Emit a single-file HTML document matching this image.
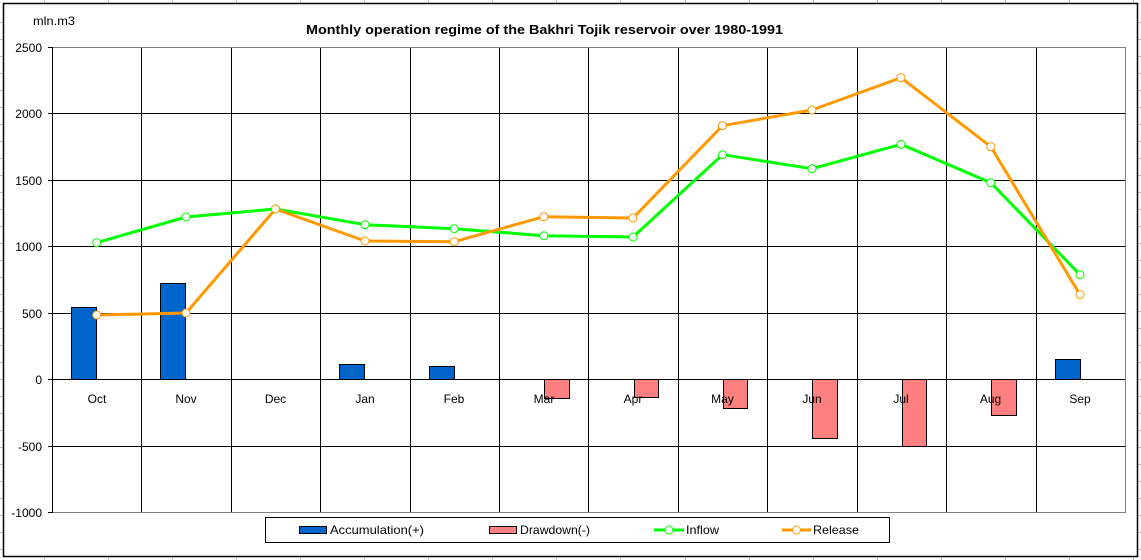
<!DOCTYPE html>
<html>
<head>
<meta charset="utf-8">
<style>
html,body{margin:0;padding:0;background:#fff;}
svg{display:block;}
text{font-family:"Liberation Sans",Arial,sans-serif;fill:#000;}
</style>
</head>
<body>
<svg width="1141" height="560" viewBox="0 0 1141 560" xmlns="http://www.w3.org/2000/svg">
<!-- spreadsheet background gridlines -->
<g stroke="#c0c0c0" stroke-width="1" shape-rendering="crispEdges">
<line x1="44.5" y1="0" x2="44.5" y2="560"/><line x1="108.5" y1="0" x2="108.5" y2="560"/><line x1="172.5" y1="0" x2="172.5" y2="560"/><line x1="236.5" y1="0" x2="236.5" y2="560"/><line x1="300.5" y1="0" x2="300.5" y2="560"/><line x1="364.5" y1="0" x2="364.5" y2="560"/><line x1="428.5" y1="0" x2="428.5" y2="560"/><line x1="492.5" y1="0" x2="492.5" y2="560"/><line x1="556.5" y1="0" x2="556.5" y2="560"/><line x1="620.5" y1="0" x2="620.5" y2="560"/><line x1="685.5" y1="0" x2="685.5" y2="560"/><line x1="749.5" y1="0" x2="749.5" y2="560"/><line x1="813.5" y1="0" x2="813.5" y2="560"/><line x1="877.5" y1="0" x2="877.5" y2="560"/><line x1="941.5" y1="0" x2="941.5" y2="560"/><line x1="1005.5" y1="0" x2="1005.5" y2="560"/><line x1="1069.5" y1="0" x2="1069.5" y2="560"/><line x1="1133.5" y1="0" x2="1133.5" y2="560"/>
<line x1="0" y1="22.5" x2="1141" y2="22.5"/><line x1="0" y1="39.5" x2="1141" y2="39.5"/><line x1="0" y1="56.5" x2="1141" y2="56.5"/><line x1="0" y1="73.5" x2="1141" y2="73.5"/><line x1="0" y1="90.5" x2="1141" y2="90.5"/><line x1="0" y1="107.5" x2="1141" y2="107.5"/><line x1="0" y1="124.5" x2="1141" y2="124.5"/><line x1="0" y1="141.5" x2="1141" y2="141.5"/><line x1="0" y1="158.5" x2="1141" y2="158.5"/><line x1="0" y1="175.5" x2="1141" y2="175.5"/><line x1="0" y1="192.5" x2="1141" y2="192.5"/><line x1="0" y1="209.5" x2="1141" y2="209.5"/><line x1="0" y1="226.5" x2="1141" y2="226.5"/><line x1="0" y1="243.5" x2="1141" y2="243.5"/><line x1="0" y1="260.5" x2="1141" y2="260.5"/><line x1="0" y1="277.5" x2="1141" y2="277.5"/><line x1="0" y1="294.5" x2="1141" y2="294.5"/><line x1="0" y1="311.5" x2="1141" y2="311.5"/><line x1="0" y1="328.5" x2="1141" y2="328.5"/><line x1="0" y1="345.5" x2="1141" y2="345.5"/><line x1="0" y1="362.5" x2="1141" y2="362.5"/><line x1="0" y1="379.5" x2="1141" y2="379.5"/><line x1="0" y1="396.5" x2="1141" y2="396.5"/><line x1="0" y1="413.5" x2="1141" y2="413.5"/><line x1="0" y1="430.5" x2="1141" y2="430.5"/><line x1="0" y1="447.5" x2="1141" y2="447.5"/><line x1="0" y1="464.5" x2="1141" y2="464.5"/><line x1="0" y1="481.5" x2="1141" y2="481.5"/><line x1="0" y1="498.5" x2="1141" y2="498.5"/><line x1="0" y1="515.5" x2="1141" y2="515.5"/><line x1="0" y1="532.5" x2="1141" y2="532.5"/><line x1="0" y1="549.5" x2="1141" y2="549.5"/>
</g>
<!-- chart area -->
<rect x="3.5" y="3.5" width="1134" height="553" fill="#fff" stroke="#000" stroke-width="1.5"/>

<!-- title -->
<text x="306" y="34" font-size="12.5" font-weight="bold" textLength="477" lengthAdjust="spacingAndGlyphs">Monthly operation regime of the Bakhri Tojik reservoir over 1980-1991</text>
<text x="33" y="25" font-size="12" textLength="42" lengthAdjust="spacingAndGlyphs">mln.m3</text>

<!-- gridlines -->
<g stroke="#000" stroke-width="1" shape-rendering="crispEdges">
<line x1="52" y1="113.5" x2="1125" y2="113.5"/>
<line x1="52" y1="180.5" x2="1125" y2="180.5"/>
<line x1="52" y1="246.5" x2="1125" y2="246.5"/>
<line x1="52" y1="313.5" x2="1125" y2="313.5"/>
<line x1="52" y1="379.5" x2="1125" y2="379.5"/>
<line x1="52" y1="446.5" x2="1125" y2="446.5"/>
<line x1="141.5" y1="47" x2="141.5" y2="512"/>
<line x1="231.5" y1="47" x2="231.5" y2="512"/>
<line x1="320.5" y1="47" x2="320.5" y2="512"/>
<line x1="410.5" y1="47" x2="410.5" y2="512"/>
<line x1="499.5" y1="47" x2="499.5" y2="512"/>
<line x1="588.5" y1="47" x2="588.5" y2="512"/>
<line x1="678.5" y1="47" x2="678.5" y2="512"/>
<line x1="767.5" y1="47" x2="767.5" y2="512"/>
<line x1="857.5" y1="47" x2="857.5" y2="512"/>
<line x1="946.5" y1="47" x2="946.5" y2="512"/>
<line x1="1036.5" y1="47" x2="1036.5" y2="512"/>
</g>
<g stroke="#808080" stroke-width="1" shape-rendering="crispEdges" fill="none">
<polyline points="52,47.5 1125.5,47.5 1125.5,512.5 52,512.5"/>
</g>
<g stroke="#000" stroke-width="1" shape-rendering="crispEdges">
<line x1="52.5" y1="47" x2="52.5" y2="513"/>
<line x1="48" y1="47.5" x2="52" y2="47.5"/>
<line x1="48" y1="113.5" x2="52" y2="113.5"/>
<line x1="48" y1="180.5" x2="52" y2="180.5"/>
<line x1="48" y1="246.5" x2="52" y2="246.5"/>
<line x1="48" y1="313.5" x2="52" y2="313.5"/>
<line x1="48" y1="379.5" x2="52" y2="379.5"/>
<line x1="48" y1="446.5" x2="52" y2="446.5"/>
<line x1="48" y1="512.5" x2="52" y2="512.5"/>
</g>
<!-- y labels -->
<g font-size="12" text-anchor="end">
<text x="42" y="52">2500</text>
<text x="42" y="118">2000</text>
<text x="42" y="185">1500</text>
<text x="42" y="251">1000</text>
<text x="42" y="318">500</text>
<text x="42" y="384">0</text>
<text x="42" y="451">-500</text>
<text x="42" y="517">-1000</text>
</g>

<!-- bars -->
<g fill="#0066cc" stroke="#000" stroke-width="1" shape-rendering="crispEdges">
<rect x="71.5" y="307.5" width="25" height="72"/>
<rect x="160.5" y="283.5" width="25" height="96"/>
<rect x="339.5" y="364.5" width="25" height="15"/>
<rect x="429.5" y="366.5" width="25" height="13"/>
<rect x="1055.5" y="359.5" width="25" height="20"/>
</g>
<g fill="#ff8080" stroke="#000" stroke-width="1" shape-rendering="crispEdges">
<rect x="544.5" y="379.5" width="25" height="19"/>
<rect x="634.5" y="379.5" width="24" height="18"/>
<rect x="723.5" y="379.5" width="24" height="29"/>
<rect x="812.5" y="379.5" width="25" height="59"/>
<rect x="902.5" y="379.5" width="24" height="67"/>
<rect x="991.5" y="379.5" width="25" height="36"/>
</g>

<!-- category labels -->
<g font-size="12" text-anchor="middle">
<text x="97" y="403">Oct</text>
<text x="186" y="403">Nov</text>
<text x="275.5" y="403">Dec</text>
<text x="365" y="403">Jan</text>
<text x="454" y="403">Feb</text>
<text x="544" y="403">Mar</text>
<text x="633" y="403">Apr</text>
<text x="722.5" y="403">May</text>
<text x="812" y="403">Jun</text>
<text x="901" y="403">Jul</text>
<text x="990.5" y="403">Aug</text>
<text x="1080" y="403">Sep</text>
</g>

<!-- inflow -->
<polyline fill="none" stroke="#00ff00" stroke-width="3" stroke-linejoin="round" points="96.7,242.7 186,217 275.5,209 365,224.7 454.2,228.7 543.8,235.7 633,237 722.5,154.7 812,168.7 901,144.3 990.8,182.7 1080,274.7"/>
<!-- release -->
<polyline fill="none" stroke="#ff9900" stroke-width="3" stroke-linejoin="round" points="96.7,315 186,313 275.5,209 365,241 454.2,241.7 543.8,216.7 633,218 722.5,125.7 812,110 901,77.7 990.8,146.7 1080,294.7"/>
<g fill="#fff" stroke="#00ff00" stroke-width="1">
<circle cx="96.7" cy="242.7" r="4"/><circle cx="186" cy="217" r="4"/><circle cx="275.5" cy="209" r="4"/><circle cx="365" cy="224.7" r="4"/><circle cx="454.2" cy="228.7" r="4"/><circle cx="543.8" cy="235.7" r="4"/><circle cx="633" cy="237" r="4"/><circle cx="722.5" cy="154.7" r="4"/><circle cx="812" cy="168.7" r="4"/><circle cx="901" cy="144.3" r="4"/><circle cx="990.8" cy="182.7" r="4"/><circle cx="1080" cy="274.7" r="4"/>
</g>
<g fill="#fff" stroke="#ff9900" stroke-width="1">
<circle cx="96.7" cy="315" r="4"/><circle cx="186" cy="313" r="4"/><circle cx="275.5" cy="209" r="4"/><circle cx="365" cy="241" r="4"/><circle cx="454.2" cy="241.7" r="4"/><circle cx="543.8" cy="216.7" r="4"/><circle cx="633" cy="218" r="4"/><circle cx="722.5" cy="125.7" r="4"/><circle cx="812" cy="110" r="4"/><circle cx="901" cy="77.7" r="4"/><circle cx="990.8" cy="146.7" r="4"/><circle cx="1080" cy="294.7" r="4"/>
</g>

<!-- legend -->
<rect x="265.5" y="517.5" width="624" height="25" fill="#fff" stroke="#000" stroke-width="1" shape-rendering="crispEdges"/>
<rect x="299.5" y="526.5" width="27" height="7" fill="#0066cc" stroke="#000" stroke-width="1" shape-rendering="crispEdges"/>
<text x="330" y="534" font-size="12" textLength="94" lengthAdjust="spacingAndGlyphs">Accumulation(+)</text>
<rect x="489.5" y="526.5" width="27" height="7" fill="#ff8080" stroke="#000" stroke-width="1" shape-rendering="crispEdges"/>
<text x="520" y="534" font-size="12" textLength="70" lengthAdjust="spacingAndGlyphs">Drawdown(-)</text>
<line x1="654" y1="530" x2="684" y2="530" stroke="#00ff00" stroke-width="3"/>
<circle cx="669" cy="530" r="4" fill="#fff" stroke="#00ff00" stroke-width="1"/>
<text x="686" y="534" font-size="12" textLength="33" lengthAdjust="spacingAndGlyphs">Inflow</text>
<line x1="782" y1="530" x2="811" y2="530" stroke="#ff9900" stroke-width="3"/>
<circle cx="796.5" cy="530" r="4" fill="#fff" stroke="#ff9900" stroke-width="1"/>
<text x="813" y="534" font-size="12" textLength="46" lengthAdjust="spacingAndGlyphs">Release</text>
</svg>
</body>
</html>
